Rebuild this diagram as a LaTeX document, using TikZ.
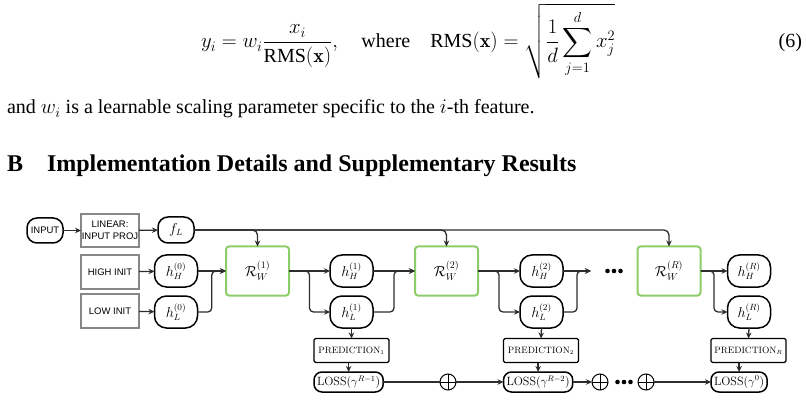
\documentclass[tikz,border=0pt]{standalone}
\usepackage{amsmath}
\usepackage{fontspec}
\newfontfamily\tnr{Liberation Serif}
\newfontfamily\arial{Liberation Sans}
\usetikzlibrary{arrows.meta,calc}
\definecolor{gbox}{RGB}{140,205,105}
\definecolor{gline}{RGB}{135,135,135}
\definecolor{conn}{RGB}{45,45,45}
\begin{document}
\begin{tikzpicture}[x=1pt,y=-1pt,
  every node/.style={inner sep=0pt, outer sep=0pt},
  pill/.style={draw=black, line width=1.5pt, rounded corners=12pt, minimum width=43pt, minimum height=32pt, font=\fontsize{13.5}{15}\selectfont},
  graybox/.style={draw=gline, line width=1.5pt, minimum width=58pt, minimum height=34pt, font=\arial\fontsize{9.5}{11.5}\selectfont, align=center},
  rbox/.style={draw=gbox, line width=2pt, rounded corners=3pt, minimum width=63pt, minimum height=49pt, font=\fontsize{14}{16}\selectfont},
  predbox/.style={draw=black, line width=1.3pt, rounded corners=1.5pt, minimum width=75pt, minimum height=24pt, font=\fontsize{9.2}{11}\selectfont},
  lossbox/.style={draw=black, line width=1.5pt, rounded corners=8pt, minimum height=20pt, inner xsep=3pt, font=\fontsize{12}{14}\selectfont},
  osum/.style={draw=black, line width=1pt, circle, minimum size=16pt},
  arr/.style={draw=conn, line width=1.3pt, -{Stealth[length=6pt,width=5.5pt]}},
  ln/.style={draw=conn, line width=1.3pt},
  blackdot/.style={circle, fill=black, minimum size=4.6pt},
  bodytext/.style={font=\tnr\fontsize{20}{24}\selectfont}
]
\path[use as bounding box] (0,0) rectangle (806,414);

% page text
\node[anchor=base west, font=\fontsize{20}{24}\selectfont] (eq) at (201,48)
  {$\displaystyle y_i = w_i\frac{x_i}{\mbox{\tnr RMS}(\mathbf{x})},\quad\mbox{\tnr where}\quad \mbox{\tnr RMS}(\mathbf{x}) = \sqrt{\frac{1}{d}\sum_{j=1}^{d} x_j^2}$};
\node[anchor=base east, bodytext] (eqnum) at (802,48) {(6)};
\node[anchor=base west, bodytext] (txt) at (7,114) {and $w_i$ is a learnable scaling parameter specific to the $i$-th feature.};
\node[anchor=base west, font=\tnr\bfseries\fontsize{24}{28}\selectfont] (secnum) at (7,172) {B};
\node[anchor=base west, font=\tnr\bfseries\fontsize{24}{28}\selectfont] (sectitle) at (47,172) {Implementation Details and Supplementary Results};

% diagram nodes
\node[pill, minimum width=36pt, minimum height=25pt, rounded corners=10pt, font=\arial\fontsize{9.5}{11}\selectfont] (input) at (45,230.5) {INPUT};
\node[graybox, minimum height=33pt] (linear) at (110,230.5) {LINEAR:\\INPUT PROJ};
\node[pill, minimum width=36pt, minimum height=26pt, rounded corners=10pt] (fL) at (176,230) {$f_L$};
\node[graybox] (high) at (110,272) {HIGH INIT};
\node[graybox] (low) at (110,311) {LOW INIT};
\node[pill] (hH0) at (176,271) {$h_H^{(0)}$};
\node[pill] (hL0) at (176,312) {$h_L^{(0)}$};
\node[rbox] (R1) at (257.5,271) {$\mathcal{R}_W^{(1)}$};
\node[pill] (hH1) at (351.5,271) {$h_H^{(1)}$};
\node[pill] (hL1) at (351.5,312) {$h_L^{(1)}$};
\node[rbox] (R2) at (446.5,271) {$\mathcal{R}_W^{(2)}$};
\node[pill] (hH2) at (541.5,271) {$h_H^{(2)}$};
\node[pill] (hL2) at (541.5,312) {$h_L^{(2)}$};
\coordinate (e2) at (591,271);
\node[blackdot] (da1) at (607.5,271) {};
\node[blackdot] (da2) at (614,271) {};
\node[blackdot] (da3) at (620.5,271) {};
\node[rbox] (RR) at (669,271) {$\mathcal{R}_W^{(R)}$};
\node[pill] (hHR) at (749,271) {$h_H^{(R)}$};
\node[pill] (hLR) at (749,312) {$h_L^{(R)}$};

\node[predbox] (P1) at (351.5,350.5) {PREDICTION$_1$};
\node[predbox] (P2) at (541,350.5) {PREDICTION$_2$};
\node[predbox] (PR) at (748.5,350.5) {PREDICTION$_R$};
\node[lossbox, anchor=west] (L1) at ($(P1.west)+(0,31.5)$) {LOSS$(\gamma^{R-1})$};
\node[lossbox, anchor=west] (L2) at ($(P2.west)+(0,31.5)$) {LOSS$(\gamma^{R-2})$};
\node[lossbox, anchor=west] (LR) at ($(PR.west)+(0,31.5)$) {LOSS$(\gamma^{0})$};
\node[osum] (o1) at (448,382) {};
\node[osum] (o2) at (600,382) {};
\node[blackdot] (db1) at (617.5,382) {};
\node[blackdot] (db2) at (624,382) {};
\node[blackdot] (db3) at (630.5,382) {};
\node[osum] (o3) at (646,382) {};
\foreach \n in {o1,o2,o3} \draw[line width=1pt] (\n.north) -- (\n.south) (\n.west) -- (\n.east);

% connectors
\draw[arr] (input) -- (linear);
\draw[arr] (linear) -- (fL);
\draw[arr] (high) -- (hH0);
\draw[arr] (low) -- (hL0);
\draw[arr, rounded corners=5pt] (fL.east) -| (R1.north);
\draw[arr, rounded corners=5pt] (fL.east) -| (R2.north);
\draw[arr, rounded corners=5pt] (fL.east) -| (RR.north);

\coordinate (m1) at ($(hH0.east)!0.5!(R1.west)$);
\draw[arr] (hH0.east) -- (R1.west);
\draw[arr, rounded corners=4pt] (hL0.east) -| (m1) -- (R1.west);
\coordinate (b1) at ($(R1.east)!0.5!(hH1.west)$);
\draw[arr] (R1.east) -- (hH1.west);
\draw[arr, rounded corners=4pt] (R1.east) -- (b1) |- (hL1.west);

\coordinate (m2) at ($(hH1.east)!0.5!(R2.west)$);
\draw[arr] (hH1.east) -- (R2.west);
\draw[arr, rounded corners=4pt] (hL1.east) -| (m2) -- (R2.west);
\coordinate (b2) at ($(R2.east)!0.5!(hH2.west)$);
\draw[arr] (R2.east) -- (hH2.west);
\draw[arr, rounded corners=4pt] (R2.east) -- (b2) |- (hL2.west);

\coordinate (m3) at ($(hH2.east)!0.5!(e2)$);
\draw[arr] (hH2.east) -- (e2);
\draw[arr, rounded corners=4pt] (hL2.east) -| (m3) -- (e2);

\coordinate (bR) at ($(RR.east)!0.5!(hHR.west)$);
\draw[arr] (RR.east) -- (hHR.west);
\draw[arr, rounded corners=4pt] (RR.east) -- (bR) |- (hLR.west);

\draw[arr] (hL1.south) -- (P1.north);
\draw[arr] (hL2.south) -- (P2.north);
\draw[arr] (hLR.south) -- (PR.north);
\draw[arr] (L1.north |- P1.south) -- (L1.north);
\draw[arr] (L2.north |- P2.south) -- (L2.north);
\draw[arr] (LR.north |- PR.south) -- (LR.north);

\draw[ln] (L1.east) -- (o1.west);
\draw[arr] (o1.east) -- (L2.west);
\draw[arr] (L2.east) -- (o2.west);
\draw[arr] (o3.east) -- (LR.west);
\end{tikzpicture}
\end{document}
